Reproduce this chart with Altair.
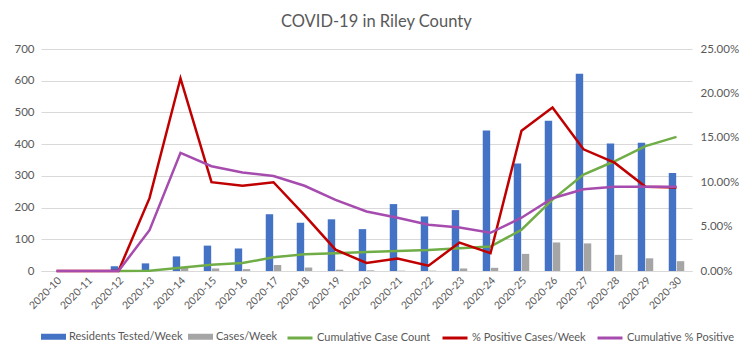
import altair as alt
import pandas as pd

weeks = ["2020-10", "2020-11", "2020-12", "2020-13", "2020-14", "2020-15", "2020-16",
         "2020-17", "2020-18", "2020-19", "2020-20", "2020-21", "2020-22", "2020-23",
         "2020-24", "2020-25", "2020-26", "2020-27", "2020-28", "2020-29", "2020-30"]
tested = [0, 0, 15, 24, 46, 80, 71, 179, 152, 163, 132, 211, 172, 192, 443, 339, 474, 622, 402, 404, 309]
cases = [None, None, 0, 1, 10, 8, 6, 19, 11, 4, 2, 1, 1, 8, 10, 54, 90, 87, 51, 40, 31]
cum_cases = [None, None, 0, 1, 10, 20, 25, 43, 53, 56, 60, 63, 66, 72, 77, 130, 225, 304, 346, 394, 423]
pct_week = [0, 0, 0, 8.2, 21.7, 10.0, 9.6, 10.0, 6.3, 2.4, 0.9, 1.4, 0.6, 3.2, 2.0, 15.8, 18.4, 13.7, 12.2, 9.5, 9.4]
pct_cum = [0, 0, 0, 4.6, 13.3, 11.8, 11.1, 10.7, 9.6, 8.0, 6.7, 6.0, 5.2, 4.9, 4.3, 6.0, 8.2, 9.2, 9.5, 9.5, 9.5]

BAR_SERIES = ["Residents Tested/Week", "Cases/Week"]
BAR_COLORS = ["#4472C4", "#A5A5A5"]
LINE_SERIES = ["Cumulative Case Count", "% Positive Cases/Week", "Cumulative % Positive"]
LINE_COLORS = ["#70AD47", "#C00000", "#A64CAF"]

rows = []
for i, w in enumerate(weeks):
    rows.append({"week": w, "series": BAR_SERIES[0], "value": tested[i]})
    rows.append({"week": w, "series": BAR_SERIES[1], "value": cases[i]})
    rows.append({"week": w, "series": LINE_SERIES[0], "value": cum_cases[i]})
    rows.append({"week": w, "series": LINE_SERIES[1], "value": pct_week[i] / 100})
    rows.append({"week": w, "series": LINE_SERIES[2], "value": pct_cum[i] / 100})
df = pd.DataFrame(rows)

FONT = "Lato"
GREY = "#595959"

base = alt.Chart(df)

x_enc = alt.X("week:N", sort=weeks, title=None,
              scale=alt.Scale(paddingInner=0.5, paddingOuter=0.25),
              axis=alt.Axis(labelAngle=-45, ticks=False, domainColor="#D9D9D9",
                            labelPadding=4, grid=False, labelFontSize=10.5))

y_left = alt.Y("value:Q", title=None,
               scale=alt.Scale(domain=[0, 700], nice=False),
               axis=alt.Axis(values=[0, 100, 200, 300, 400, 500, 600, 700], grid=True,
                             gridColor="#D9D9D9", domain=False, ticks=False,
                             labelPadding=7, labelFontSize=11.5))

y_right = alt.Y("value:Q", title=None,
                scale=alt.Scale(domain=[0, 0.25], nice=False),
                axis=alt.Axis(orient="right", format=".2%",
                              values=[0, 0.05, 0.10, 0.15, 0.20, 0.25], grid=False,
                              domain=False, ticks=False, labelPadding=8,
                              labelFontSize=11.5))

bar_path = "M-1,-0.24H1V0.24H-1Z"

color_enc = alt.Color("series:N",
                      scale=alt.Scale(domain=BAR_SERIES, range=BAR_COLORS),
                      legend=alt.Legend(orient="bottom", title=None, symbolType=bar_path,
                                        symbolSize=625, symbolStrokeWidth=0))
stroke_enc = alt.Stroke("series:N",
                        scale=alt.Scale(domain=LINE_SERIES, range=LINE_COLORS),
                        legend=alt.Legend(orient="bottom", title=None, symbolType="stroke",
                                          symbolSize=625, symbolStrokeWidth=3))

bars = base.transform_filter(
    alt.FieldOneOfPredicate(field="series", oneOf=BAR_SERIES)
).mark_bar().encode(
    x=x_enc,
    xOffset=alt.XOffset("series:N", sort=BAR_SERIES,
                        scale=alt.Scale(domain=BAR_SERIES, paddingInner=0.08)),
    y=y_left,
    color=color_enc,
)

green = base.transform_filter(
    alt.FieldEqualPredicate(field="series", equal=LINE_SERIES[0])
).mark_line(strokeWidth=2.5).encode(x=x_enc, y=y_left, stroke=stroke_enc)

pct = base.transform_filter(
    alt.FieldOneOfPredicate(field="series", oneOf=LINE_SERIES[1:])
).mark_line(strokeWidth=2.5).encode(x=x_enc, y=y_right, stroke=stroke_enc)

chart = alt.layer(alt.layer(bars, green), pct).resolve_scale(
    y="independent"
).properties(
    width=732, height=341,
    autosize=alt.AutoSizeParams(type="fit", contains="padding"),
    padding={"left": 5, "right": 1, "top": 5, "bottom": 5},
    title=alt.Title("COVID-19 in Riley County", fontSize=16.5, font=FONT, color=GREY,
                    fontWeight="normal", anchor="middle", frame="bounds", offset=13),
    background="white",
).configure_view(stroke=None).configure_axis(
    labelFont=FONT, labelColor=GREY
).configure_legend(
    labelFont=FONT, labelColor=GREY, labelFontSize=11, columnPadding=5, symbolOffset=0,
    offset=12, labelOffset=3
)

chart.save("out.html", embed_options={"renderer": "svg", "actions": False})
